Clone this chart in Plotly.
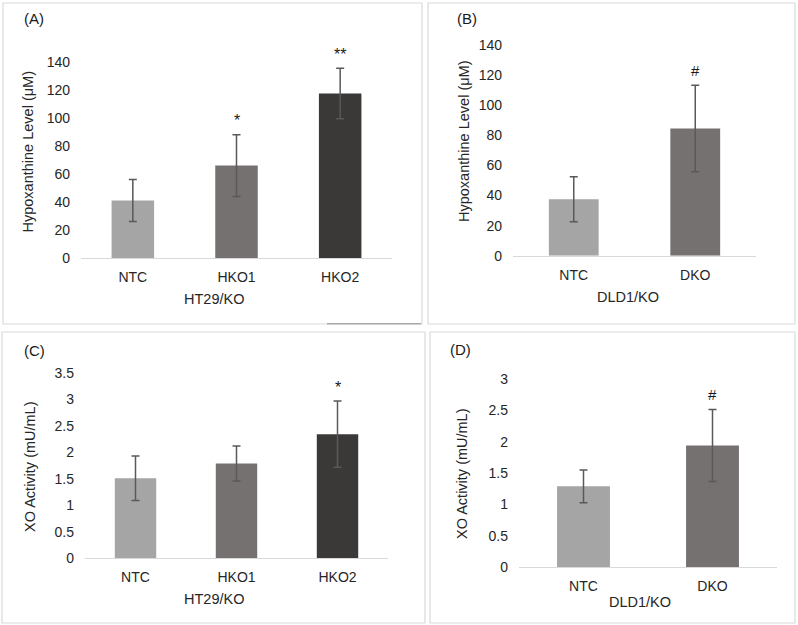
import plotly.graph_objects as go

W, H = 798, 625
FONT = "Liberation Sans, Arial, sans-serif"
TXT = "#262626"

# ---- data ----
cats_ht29 = ["NTC", "HKO1", "HKO2"]
cats_dld1 = ["NTC", "DKO"]

hx_ht29 = [41, 66, 117.5]
hx_ht29_err = [15, 22, 18]
hx_ht29_sig = ["", "*", "**"]

hx_dld1 = [37.5, 84.5]
hx_dld1_err = [15, 28.7]
hx_dld1_sig = ["", "#"]

xo_ht29 = [1.51, 1.79, 2.34]
xo_ht29_err = [0.42, 0.33, 0.625]
xo_ht29_sig = ["", "", "*"]

xo_dld1 = [1.29, 1.94]
xo_dld1_err = [0.26, 0.575]
xo_dld1_sig = ["", "#"]

colors3 = ["#a5a5a5", "#767171", "#3b3838"]
colors2 = ["#a5a5a5", "#767171"]

# panel layout in pixels: plot area (x0, x1, ytop, ybottom), title centres, labels, frames
panels = [
    dict(key="", cats=cats_ht29, vals=hx_ht29, err=hx_ht29_err, sig=hx_ht29_sig, cols=colors3,
         px=(81, 392, 62, 258), yr=[0, 140], dt=20,
         ytitle="Hypoxanthine Level (μM)", yt_xy=(27.5, 152),
         xtitle="HT29/KO", xt_xy=(214, 298.5),
         label="(A)", lab_xy=(22, 18), box=(3, 422, 3, 324)),
    dict(key="2", cats=cats_dld1, vals=hx_dld1, err=hx_dld1_err, sig=hx_dld1_sig, cols=colors2,
         px=(513, 756, 45, 255.7), yr=[0, 140], dt=20,
         ytitle="Hypoxanthine Level (μM)", yt_xy=(464, 142),
         xtitle="DLD1/KO", xt_xy=(628, 297),
         label="(B)", lab_xy=(455, 19), box=(428, 795, 3, 324)),
    dict(key="3", cats=cats_ht29, vals=xo_ht29, err=xo_ht29_err, sig=xo_ht29_sig, cols=colors3,
         px=(85, 388, 372.7, 558.3), yr=[0, 3.5], dt=0.5,
         ytitle="XO Activity (mU/mL)", yt_xy=(30, 467),
         xtitle="HT29/KO", xt_xy=(213.5, 599),
         label="(C)", lab_xy=(22, 350), box=(2, 425, 332, 623)),
    dict(key="4", cats=cats_dld1, vals=xo_dld1, err=xo_dld1_err, sig=xo_dld1_sig, cols=colors2,
         px=(519, 777, 379, 567.3), yr=[0, 3], dt=0.5,
         ytitle="XO Activity (mU/mL)", yt_xy=(462, 474),
         xtitle="DLD1/KO", xt_xy=(640, 601.5),
         label="(D)", lab_xy=(448, 349), box=(430, 795, 332, 623)),
]

fig = go.Figure()
annotations = []
shapes = []

for p in panels:
    k = p["key"]
    xa, ya = "x" + k, "y" + k
    fig.add_trace(go.Bar(
        x=p["cats"], y=p["vals"], xaxis=xa, yaxis=ya,
        marker=dict(color=p["cols"], line=dict(width=0)),
        error_y=dict(type="data", array=p["err"], visible=True, color="#595959", thickness=1.5, width=4),
        showlegend=False, hoverinfo="x+y",
    ))
    x0, x1, yt, yb = p["px"]
    layout_x = dict(
        domain=[x0 / W, x1 / W], anchor=ya,
        showline=True, linecolor="#d9d9d9", linewidth=1.2,
        showgrid=False, zeroline=False, ticks="",
        tickfont=dict(family=FONT, size=14, color=TXT),
        ticklabelstandoff=6,
        fixedrange=True,
    )
    layout_y = dict(
        domain=[1 - yb / H, 1 - yt / H], anchor=xa,
        range=p["yr"], dtick=p["dt"], tick0=0,
        showline=False, showgrid=False, zeroline=False, ticks="",
        tickfont=dict(family=FONT, size=14, color=TXT),
        ticklabelstandoff=10,
        fixedrange=True,
    )
    fig.update_layout(**{"xaxis" + k: layout_x, "yaxis" + k: layout_y})

    # axis titles
    tx, ty = p["xt_xy"]
    annotations.append(dict(
        x=tx / W, y=1 - ty / H, xref="paper", yref="paper", text=p["xtitle"], showarrow=False,
        xanchor="center", yanchor="middle", font=dict(family=FONT, size=14.5, color=TXT),
    ))
    tx, ty = p["yt_xy"]
    annotations.append(dict(
        x=tx / W, y=1 - ty / H, xref="paper", yref="paper", text=p["ytitle"], showarrow=False,
        xanchor="center", yanchor="middle", textangle=-90, font=dict(family=FONT, size=14.5, color=TXT),
    ))

    # significance marks above error bars
    for c, v, e, s in zip(p["cats"], p["vals"], p["err"], p["sig"]):
        if s:
            annotations.append(dict(
                x=c, y=v + e, xref=xa, yref=ya, text=s, showarrow=False,
                yanchor="middle", yshift=14 if "*" in s else 15,
                font=dict(family=FONT, size=16 if "*" in s else 15, color="#1a1a1a"),
            ))
    # panel label
    lx, ly = p["lab_xy"]
    annotations.append(dict(
        x=lx / W, y=1 - ly / H, xref="paper", yref="paper", text=p["label"], showarrow=False,
        xanchor="left", yanchor="middle", font=dict(family=FONT, size=15, color="#1a1a1a"),
    ))
    # panel border
    bx0, bx1, by0, by1 = p["box"]
    shapes.append(dict(
        type="rect", xref="paper", yref="paper",
        x0=bx0 / W, x1=bx1 / W, y0=1 - by1 / H, y1=1 - by0 / H,
        line=dict(color="#d9d9d9", width=1.2), fillcolor="rgba(0,0,0,0)", layer="below",
    ))

# small darker segment under panel A
shapes.append(dict(type="line", xref="paper", yref="paper",
                   x0=327 / W, x1=421 / W, y0=1 - 323.8 / H, y1=1 - 323.8 / H,
                   line=dict(color="#8c8c8c", width=1)))

fig.update_layout(
    autosize=True,
    margin=dict(l=0, r=0, t=0, b=0, autoexpand=False),
    paper_bgcolor="white", plot_bgcolor="white",
    bargap=0.59,
    annotations=annotations, shapes=shapes,
    font=dict(family=FONT, size=14, color=TXT),
)

fig.write_html(
    "out.html",
    config={"displayModeBar": False, "responsive": True},
    default_width="100vw",
    default_height="100vh",
    post_script="document.documentElement.style.margin='0';document.body.style.margin='0';document.body.style.padding='0';document.body.style.overflow='hidden';",
)
